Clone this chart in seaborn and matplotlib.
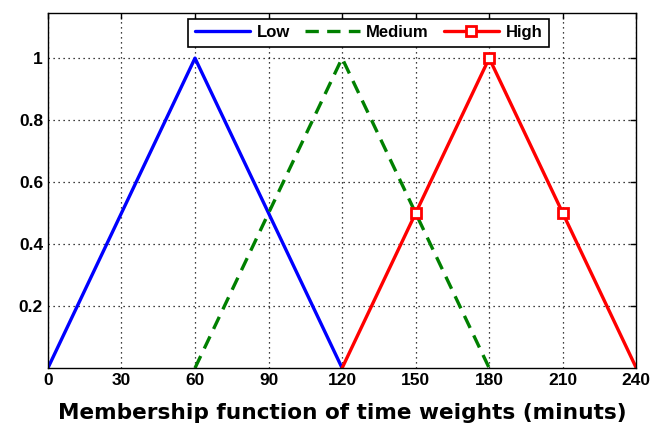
import numpy as np
import pandas as pd
import matplotlib
matplotlib.use("Agg")
import matplotlib.pyplot as plt
import seaborn as sns

# Membership function breakpoints (minutes) and degrees
low_x = [0, 60, 120]
low_y = [0, 1, 0]
medium_x = [60, 120, 180]
medium_y = [0, 1, 0]
high_x = [120, 150, 180, 210, 240]
high_y = [0, 0.5, 1, 0.5, 0]

x_ticks = [0, 30, 60, 90, 120, 150, 180, 210, 240]
y_ticks = [0.2, 0.4, 0.6, 0.8, 1]

sns.set_style("white")
plt.rcParams["font.family"] = ["Liberation Sans", "DejaVu Sans"]
plt.rcParams["font.weight"] = "bold"
plt.rcParams["text.color"] = "black"
plt.rcParams["xtick.color"] = "black"
plt.rcParams["ytick.color"] = "black"
plt.rcParams["axes.labelcolor"] = "black"

fig = plt.figure(figsize=(6.56, 4.26), dpi=100)
ax = fig.add_axes([0.073, 0.136, 0.897, 0.833])

low_df = pd.DataFrame({"x": low_x, "y": low_y})
med_df = pd.DataFrame({"x": medium_x, "y": medium_y})
high_df = pd.DataFrame({"x": high_x, "y": high_y})

sns.lineplot(data=low_df, x="x", y="y", ax=ax, color="#0000ff", lw=2.4,
             label="Low", sort=False)
sns.lineplot(data=med_df, x="x", y="y", ax=ax, color="#008000", lw=2.4,
             linestyle=(0, (4, 2.5)), label="Medium", sort=False)
sns.lineplot(data=high_df, x="x", y="y", ax=ax, color="#ff0000", lw=2.4,
             marker="s", markersize=7, markerfacecolor="white",
             markeredgecolor="#ff0000", markeredgewidth=2,
             markevery=[1, 2, 3], label="High", sort=False)

ax.set_xlim(0, 240)
ax.set_ylim(0, 1.145)
ax.set_xticks(x_ticks)
ax.set_yticks(y_ticks)
ax.set_yticklabels(["0.2", "0.4", "0.6", "0.8", "1"])
ax.tick_params(direction="in", top=True, right=True, length=4, width=1,
               labelsize=12.5, colors="black")
ax.grid(True, linestyle=(0, (1, 3)), color="black", lw=0.9)
for s in ax.spines.values():
    s.set_color("black")
    s.set_linewidth(1)
    s.set_visible(True)

ax.set_xlabel("Membership function of time weights (minuts)", fontsize=15.6,
              fontweight="bold", family="DejaVu Sans", labelpad=11,
              color="black")
ax.set_ylabel("")

leg = ax.legend(loc="upper center", ncol=3, bbox_to_anchor=(0.545, 0.985),
                borderaxespad=0, fontsize=12, frameon=True, fancybox=False,
                edgecolor="black", framealpha=1, handlelength=3.3,
                columnspacing=0.9, handletextpad=0.4, borderpad=0.4)
leg.get_frame().set_linewidth(1.2)

fig.savefig("out.png", dpi=100)
